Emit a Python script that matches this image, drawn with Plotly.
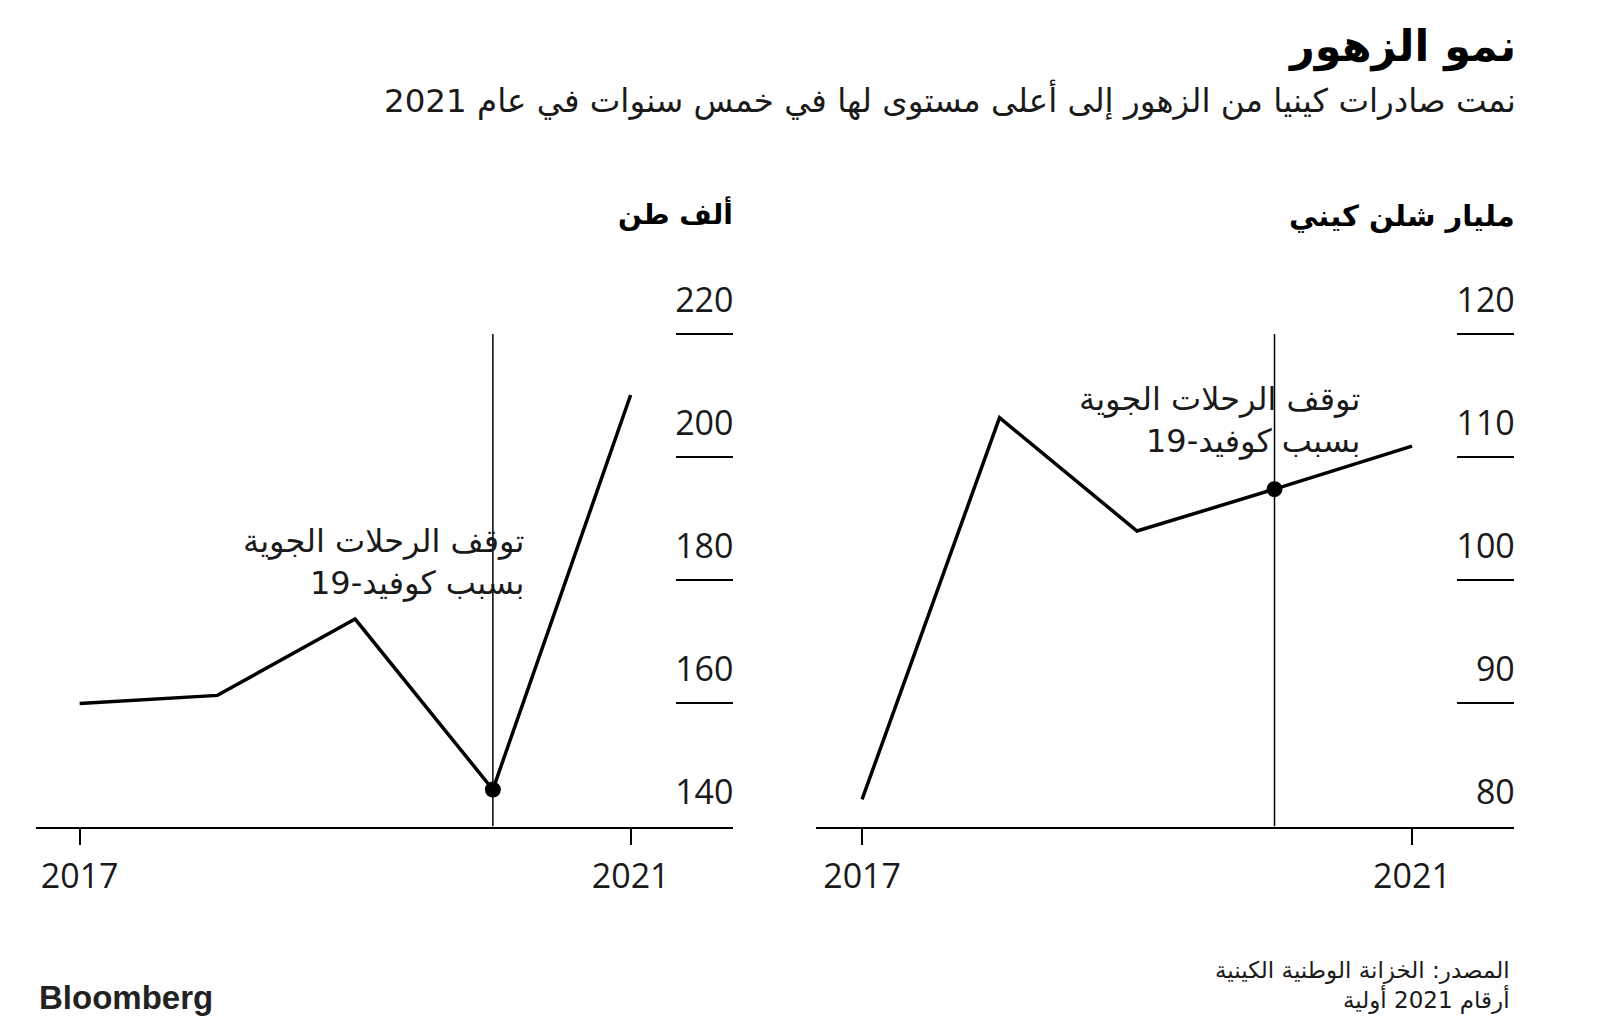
import plotly.graph_objects as go

years = [2017, 2018, 2019, 2020, 2021]
volume_k_tonnes = [160.0, 161.3, 173.7, 146.0, 210.1]
value_bn_kes = [82.2, 113.2, 104.0, 107.4, 110.9]

x_tickvals = [2017, 2021]
x_ticktext = ["2017", "2021"]
left_ticks = [140, 160, 180, 200, 220]
right_ticks = [80, 90, 100, 110, 120]
event_year = 2020

title = "نمو الزهور"
subtitle = "نمت صادرات كينيا من الزهور إلى أعلى مستوى لها في خمس سنوات في عام 2021"
left_unit = "ألف طن"
right_unit = "مليار شلن كيني"
event_text = "توقف الرحلات الجوية<br>بسبب كوفيد-19"
source1 = "المصدر: الخزانة الوطنية الكينية"
source2 = "أرقام 2021 أولية"

AR = "DejaVu Sans"
NUM = "Open Sans"
INK = "#1a1a1a"
W, H = 1600, 1030

def px_x(p):
    return p / W

def px_y(p):
    return 1 - p / H

fig = go.Figure()

for xa, ya, vals in [("x", "y", volume_k_tonnes), ("x2", "y2", value_bn_kes)]:
    fig.add_trace(go.Scatter(x=years, y=vals, xaxis=xa, yaxis=ya, mode="lines",
                             line=dict(color="black", width=3.5), hoverinfo="skip",
                             showlegend=False, cliponaxis=False))
    i = years.index(event_year)
    fig.add_trace(go.Scatter(x=[years[i]], y=[vals[i]], xaxis=xa, yaxis=ya, mode="markers",
                             marker=dict(color="black", size=16), hoverinfo="skip",
                             showlegend=False, cliponaxis=False))

y_bottom = px_y(826.5)
y_top = px_y(272.5)

xcommon = dict(tickvals=x_tickvals, ticktext=x_ticktext, ticks="outside", ticklen=16,
               tickwidth=2, tickcolor="black", showline=True, linewidth=2, linecolor="black",
               showgrid=False, zeroline=False, tickfont=dict(family=NUM, size=34, color=INK),
               ticklabelstandoff=3, fixedrange=True)
ycommon = dict(side="right", ticks="inside", ticklen=57, tickwidth=2, tickcolor="black",
               showline=False, showgrid=False, zeroline=False, ticklabelposition="inside",
               ticklabelshift=-34, ticklabelstandoff=-54,
               tickfont=dict(family=NUM, size=34, color=INK), fixedrange=True)

fig.update_layout(
    width=W, height=H, margin=dict(l=0, r=0, t=0, b=0),
    paper_bgcolor="white", plot_bgcolor="white",
    xaxis=dict(domain=[px_x(35.7), px_x(732.7)], range=[2016.681, 2021.741], anchor="y", **xcommon),
    xaxis2=dict(domain=[px_x(816), px_x(1514)], range=[2016.665, 2021.742], anchor="y2", **xcommon),
    yaxis=dict(domain=[y_bottom, y_top], range=[140, 230], tickvals=left_ticks, anchor="x", **ycommon),
    yaxis2=dict(domain=[y_bottom, y_top], range=[80, 125], tickvals=right_ticks, anchor="x2", **ycommon),
)

fig.add_shape(type="line", xref="x", yref="y", x0=event_year, x1=event_year, y0=140, y1=220,
              line=dict(color="black", width=1.5), layer="below")
fig.add_shape(type="line", xref="x2", yref="y2", x0=event_year, x1=event_year, y0=80, y1=120,
              line=dict(color="black", width=1.5), layer="below")

ann = []
ann.append(dict(text="<b>" + title + "</b>", xref="paper", yref="paper", x=px_x(1518), y=px_y(46),
                xanchor="right", yanchor="middle", showarrow=False,
                font=dict(family=AR, size=43, color="black")))
ann.append(dict(text=subtitle, xref="paper", yref="paper", x=px_x(1518), y=px_y(100),
                xanchor="right", yanchor="middle", showarrow=False,
                font=dict(family=AR, size=32.5, color=INK)))
ann.append(dict(text="<b>" + left_unit + "</b>", xref="paper", yref="paper", x=px_x(735), y=px_y(214),
                xanchor="right", yanchor="middle", showarrow=False,
                font=dict(family=AR, size=28, color="black")))
ann.append(dict(text="<b>" + right_unit + "</b>", xref="paper", yref="paper", x=px_x(1517), y=px_y(216),
                xanchor="right", yanchor="middle", showarrow=False,
                font=dict(family=AR, size=29, color="black")))
ann.append(dict(text=event_text, xref="x", yref="y", x=event_year, y=183, xshift=33,
                xanchor="right", yanchor="middle", align="right", showarrow=False,
                font=dict(family=AR, size=32, color=INK)))
ann.append(dict(text=event_text, xref="x2", yref="y2", x=event_year, y=113, xshift=87,
                xanchor="right", yanchor="middle", align="right", showarrow=False,
                font=dict(family=AR, size=32, color=INK)))
ann.append(dict(text=source1 + "<br>" + source2, xref="paper", yref="paper", x=px_x(1512), y=px_y(985),
                xanchor="right", yanchor="middle", align="right", showarrow=False,
                font=dict(family=AR, size=23, color=INK)))
ann.append(dict(text="<b>Bloomberg</b>", xref="paper", yref="paper", x=px_x(37), y=px_y(997),
                xanchor="left", yanchor="middle", showarrow=False,
                font=dict(family="Liberation Sans", size=33, color="#222")))
fig.update_layout(annotations=ann)

fig.write_html("out.html")
